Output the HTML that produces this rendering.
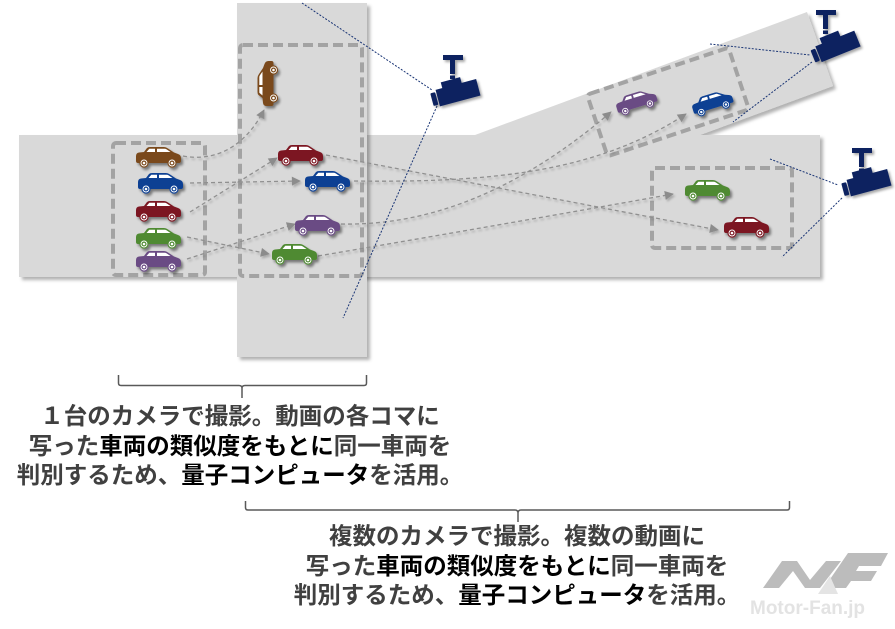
<!DOCTYPE html>
<html>
<head>
<meta charset="utf-8">
<style>
  html,body{margin:0;padding:0;background:#fff;}
  body{width:895px;height:629px;overflow:hidden;position:relative;}
  svg{position:absolute;left:0;top:0;}
  .t{position:absolute;text-align:center;font-family:"Liberation Sans","Noto Sans CJK JP",sans-serif;font-weight:bold;font-size:23.5px;line-height:29.5px;color:#404040;white-space:nowrap;}
  .k{color:#000;}
  .logo{position:absolute;left:750px;top:598px;font-family:"Liberation Sans",sans-serif;font-weight:bold;font-size:19px;color:#e3e3e3;letter-spacing:0px;}
</style>
</head>
<body>
<svg width="895" height="629" viewBox="0 0 895 629" xmlns="http://www.w3.org/2000/svg">
  <defs>
    <filter id="rs" x="-5%" y="-5%" width="115%" height="115%">
      <feDropShadow dx="3" dy="3" stdDeviation="1.5" flood-color="#000" flood-opacity="0.3"/>
    </filter>
    <filter id="cs" x="-20%" y="-20%" width="150%" height="160%">
      <feDropShadow dx="2" dy="2.5" stdDeviation="1.2" flood-color="#000" flood-opacity="0.45"/>
    </filter>
    <filter id="as" x="-5%" y="-20%" width="115%" height="150%">
      <feDropShadow dx="1.5" dy="2" stdDeviation="1" flood-color="#000" flood-opacity="0.22"/>
    </filter>
    <filter id="ks" x="-20%" y="-20%" width="150%" height="150%">
      <feDropShadow dx="2" dy="2" stdDeviation="1.2" flood-color="#000" flood-opacity="0.35"/>
    </filter>
    <marker id="ah" viewBox="0 0 10 10" refX="9" refY="5" markerWidth="10" markerHeight="9" markerUnits="userSpaceOnUse" orient="auto">
      <path d="M0,0 L10,5 L0,10 z" fill="#8c8c8c"/>
    </marker>
    <g id="car">
      <path d="M3,16 Q1,16 1,14 L1,9 Q1,6 4,5.5 L9,5 L12,1 Q13,0 15,0 L29,0 Q31,0 33,1.5 L39,5.5 L43,7 Q46,8 46,11 L46,14 Q46,16 44,16 Z" fill="currentColor"/>
      <path d="M11.5,5 L14.3,1.8 L20,1.8 L20,5 Z" fill="#fff"/>
      <path d="M22,1.8 L30,1.8 Q31,1.8 32,2.6 L35.5,5 L22,5 Z" fill="#fff"/>
      <circle cx="9" cy="16" r="4.6" fill="currentColor"/>
      <circle cx="9" cy="16" r="3" fill="none" stroke="#fff" stroke-width="0.9"/>
      <circle cx="9" cy="16" r="1.3" fill="#fff"/>
      <circle cx="37" cy="16" r="4.6" fill="currentColor"/>
      <circle cx="37" cy="16" r="3" fill="none" stroke="#fff" stroke-width="0.9"/>
      <circle cx="37" cy="16" r="1.3" fill="#fff"/>
    </g>
    <g id="cam">
      <rect x="-18" y="-8" width="42" height="17" fill="#0c2461"/>
      <rect x="-11" y="-14" width="20" height="7" fill="#0c2461"/>
      <rect x="-24" y="-6" width="5" height="13" rx="1" fill="#0c2461"/>
    </g>
  </defs>

  <!-- roads -->
  <polygon points="19,135 475,135 807,12 833,86 700,135 820,135 820,277 19,277" fill="#d9d9d9" filter="url(#rs)"/>
  <rect x="237" y="3" width="130" height="354" fill="#d9d9d9" filter="url(#rs)"/>

  <!-- dashed boxes -->
  <g fill="none" stroke="#a3a3a3" stroke-width="4" stroke-dasharray="10 5">
    <rect x="113" y="143" width="92" height="132" rx="3"/>
    <rect x="240" y="45" width="122" height="231" rx="3"/>
    <rect x="652" y="168" width="140" height="80" rx="3"/>
    <rect x="-74.5" y="-32.5" width="149" height="65" rx="3" transform="translate(668,102) rotate(-18.4)"/>
  </g>

  <!-- arrows -->
  <g fill="none" stroke="#909090" stroke-width="1.3" stroke-dasharray="4 3" marker-end="url(#ah)" filter="url(#as)">
    <path d="M183,156 C215,162 245,147 264,110"/>
    <path d="M190,183 L300,181"/>
    <path d="M190,212 L277,158"/>
    <path d="M187,237 L269,254"/>
    <path d="M187,259 L295,224"/>
    <path d="M326,155 L718,230"/>
    <path d="M354,181 C500,183 600,170 686,114"/>
    <path d="M341,224 C430,226 520,190 611,112"/>
    <path d="M318,256 Q500,225 673,194"/>
  </g>

  <!-- cars -->
  <g filter="url(#cs)">
    <use href="#car" transform="translate(135,147)" style="color:#7a4a1b"/>
    <use href="#car" transform="translate(137,173)" style="color:#0b3f93"/>
    <use href="#car" transform="translate(135,201)" style="color:#7b1620"/>
    <use href="#car" transform="translate(135,228)" style="color:#4f8a33"/>
    <use href="#car" transform="translate(135,251)" style="color:#6a4c84"/>

    <use href="#car" transform="translate(277,145)" style="color:#7b1620"/>
    <use href="#car" transform="translate(304,171)" style="color:#0b3f93"/>
    <use href="#car" transform="translate(294,215)" style="color:#6a4c84"/>
    <use href="#car" transform="translate(271,244)" style="color:#4f8a33"/>
    <use href="#car" transform="translate(267.5,84) rotate(-90) translate(-23,-10)" style="color:#7a4a1b"/>

    <use href="#car" transform="translate(684,180)" style="color:#4f8a33"/>
    <use href="#car" transform="translate(723,217)" style="color:#7b1620"/>

    <use href="#car" transform="translate(636,102) rotate(-17) scale(0.92) translate(-23,-10)" style="color:#6a4c84"/>
    <use href="#car" transform="translate(712,103) rotate(-17) scale(0.92) translate(-23,-10)" style="color:#0b3f93"/>
  </g>

  <!-- camera sight lines -->
  <g stroke="#1a3575" stroke-width="1" stroke-dasharray="2 1.5" fill="none">
    <path d="M302,3 L432,90"/>
    <path d="M437,106 L343,318"/>
    <path d="M710,44 L810,55"/>
    <path d="M812,62 L733,122"/>
    <path d="M770,159 L838,185"/>
    <path d="M842,198 L782,257"/>
  </g>

  <!-- cameras -->
  <g fill="#0c2461" filter="url(#ks)">
    <rect x="443" y="55" width="20" height="5"/>
    <rect x="450" y="60" width="5" height="14"/>
    <rect x="450" y="75.5" width="5" height="3.5"/>
    <use href="#cam" transform="translate(455,93) rotate(-15)"/>

    <rect x="816" y="10" width="20" height="5"/>
    <rect x="823" y="15" width="5" height="14"/>
    <rect x="823" y="30.5" width="5" height="3.5"/>
    <use href="#cam" transform="translate(835,47) rotate(-22)"/>

    <rect x="852" y="148" width="20" height="5"/>
    <rect x="859" y="153" width="5" height="14"/>
    <rect x="859" y="168.5" width="5" height="3"/>
    <use href="#cam" transform="translate(866,183) rotate(-15)"/>
  </g>

  <!-- brackets -->
  <g fill="none" stroke="#595959" stroke-width="1.5">
    <path d="M118.5,375 L118.5,383 Q118.5,385.5 121,385.5 L239,385.5 Q242,385.5 242,388 L242,398 M242,388 Q242,385.5 245,385.5 L364,385.5 Q366.5,385.5 366.5,383 L366.5,375"/>
    <path d="M245.5,501 L245.5,507.5 Q245.5,510 248,510 L515,510 Q518,510 518,513 L518,522 M518,513 Q518,510 521,510 L787,510 Q789.5,510 789.5,507.5 L789.5,501"/>
  </g>

  <!-- logo -->
  <g fill="#bcbcbc">
    <polygon points="763,588 782,561 797,561 810,580 826,561 841,561 820,588 805,588 793,571 779,588"/>
    <polygon points="824,588 848,553 888,553 881,566 859,566 856,571 877,571 871,581 851,581 846,588"/>
  </g>
  <polygon points="818,594 830,576 838,594" fill="#e4e4e4"/>
</svg>

<div class="t" style="left:0;width:480px;top:402px;">
  １台のカメラで撮影。動画の各コマに<br>
  写った<span class="k">車両の類似度をもとに</span>同一車両を<br>
  判別するため、<span class="k">量子コンピュータ</span>を活用。
</div>

<div class="t" style="left:267px;width:500px;top:522px;">
  複数のカメラで撮影。複数の動画に<br>
  写った<span class="k">車両の類似度をもとに</span>同一車両を<br>
  判別するため、<span class="k">量子コンピュータ</span>を活用。
</div>

<div class="logo">Motor-Fan.jp</div>
</body>
</html>
